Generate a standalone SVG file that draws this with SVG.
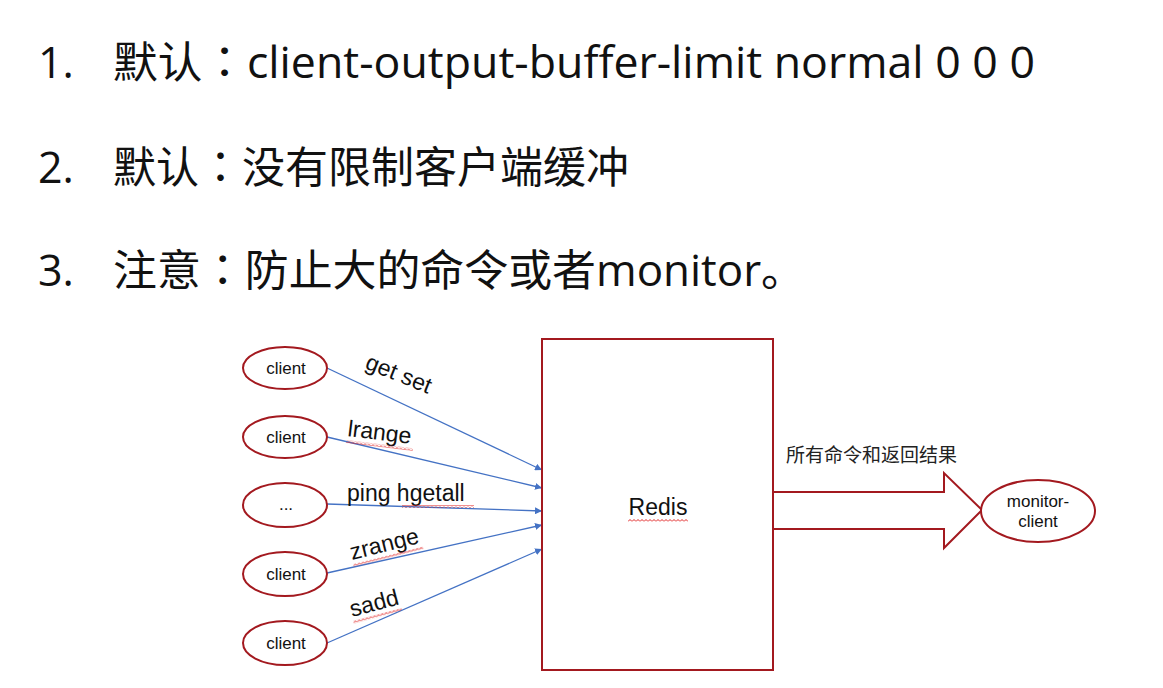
<svg xmlns="http://www.w3.org/2000/svg" width="1163" height="688" viewBox="0 0 1163 688">
  <style>
    .title { font-family: "Open Sans", "Noto Sans CJK SC", sans-serif; font-size: 43px; fill: #111; }
    .colon { font-family: "Noto Sans CJK JP", sans-serif; }
    .node { fill: #fff; stroke: #a3191f; stroke-width: 2; }
    .ntext { font-family: "Liberation Sans", Arial, sans-serif; font-size: 17px; fill: #111; text-anchor: middle; }
    .lbl { font-family: "Liberation Sans", Arial, sans-serif; font-size: 23px; fill: #111; }
    .edge { stroke: #4472c4; stroke-width: 1.3; fill: none; marker-end: url(#arr); }
    .cjk { font-family: "Noto Sans CJK SC", sans-serif; font-size: 19px; fill: #222; }
  </style>
  <defs>
    <marker id="arr" viewBox="0 0 10 10" refX="10" refY="5" markerWidth="7" markerHeight="7" markerUnits="userSpaceOnUse" orient="auto">
      <path d="M0,0 L10,5 L0,10 z" fill="#4472c4"/>
    </marker>
    <pattern id="wavy" patternUnits="userSpaceOnUse" width="4" height="3">
      <path d="M0,2.5 L2,0.5 L4,2.5" fill="none" stroke="#e02020" stroke-width="1"/>
    </pattern>
  </defs>
  <rect width="1163" height="688" fill="#fff"/>

  <g id="list">
    <text class="title" x="38" y="78">1.</text>
    <text class="title" x="113" y="78" textLength="922" lengthAdjust="spacingAndGlyphs">默认<tspan class="colon">：</tspan>client-output-buffer-limit normal 0 0 0</text>
    <text class="title" x="38" y="183">2.</text>
    <text class="title" x="113" y="183">默认<tspan class="colon">：</tspan>没有限制客户端缓冲</text>
    <text class="title" x="38" y="286">3.</text>
    <text class="title" x="113" y="286" textLength="692" lengthAdjust="spacingAndGlyphs">注意<tspan class="colon">：</tspan>防止大的命令或者monitor。</text>
  </g>

  <g id="connectors">
    <line class="edge" x1="327" y1="368" x2="542" y2="470"/>
    <line class="edge" x1="327" y1="437" x2="542" y2="488"/>
    <line class="edge" x1="327" y1="504" x2="542" y2="511"/>
    <line class="edge" x1="327" y1="573" x2="542" y2="525"/>
    <line class="edge" x1="327" y1="643" x2="542" y2="549"/>
    <polygon points="773,492 944,492 944,473 982,510 944,548 944,529 773,529" fill="#fff" stroke="#a3191f" stroke-width="2"/>
  </g>

  <g id="edge-labels">
    <text class="lbl" x="364" y="368" transform="rotate(22 364 368)">get set</text>
    <g transform="rotate(7 347 436)">
      <text class="lbl" x="347" y="436">lrange</text>
      <rect x="347" y="440" width="67" height="3" fill="url(#wavy)"/>
    </g>
    <g>
      <text class="lbl" x="347" y="501">ping hgetall</text>
      <rect x="402" y="505" width="72" height="3" fill="url(#wavy)"/>
    </g>
    <g transform="rotate(-14 352 560)">
      <text class="lbl" x="352" y="560">zrange</text>
      <rect x="352" y="564" width="72" height="3" fill="url(#wavy)"/>
    </g>
    <g transform="rotate(-15 352 617)">
      <text class="lbl" x="352" y="617">sadd</text>
      <rect x="352" y="621" width="50" height="3" fill="url(#wavy)"/>
    </g>
    <text class="cjk" x="786" y="462">所有命令和返回结果</text>
  </g>

  <g id="client1">
    <ellipse class="node" cx="285" cy="368" rx="42" ry="21"/>
    <text class="ntext" x="286" y="374">client</text>
  </g>
  <g id="client2">
    <ellipse class="node" cx="285" cy="437" rx="42" ry="21"/>
    <text class="ntext" x="286" y="443">client</text>
  </g>
  <g id="client3">
    <ellipse class="node" cx="285" cy="505" rx="42" ry="22"/>
    <text class="ntext" x="286" y="510">...</text>
  </g>
  <g id="client4">
    <ellipse class="node" cx="285" cy="574" rx="42" ry="22"/>
    <text class="ntext" x="286" y="580">client</text>
  </g>
  <g id="client5">
    <ellipse class="node" cx="285" cy="643" rx="42" ry="22"/>
    <text class="ntext" x="286" y="649">client</text>
  </g>

  <g id="redis">
    <rect class="node" x="542" y="339" width="231" height="331"/>
    <text class="lbl" x="658" y="515" text-anchor="middle" font-size="22">Redis</text>
    <rect x="628" y="519" width="60" height="3" fill="url(#wavy)"/>
  </g>

  <g id="monitor-client">
    <ellipse class="node" cx="1038" cy="511" rx="57" ry="31"/>
    <text class="ntext" x="1038" y="507" font-size="15">monitor-</text>
    <text class="ntext" x="1038" y="527" font-size="15">client</text>
  </g>
</svg>
